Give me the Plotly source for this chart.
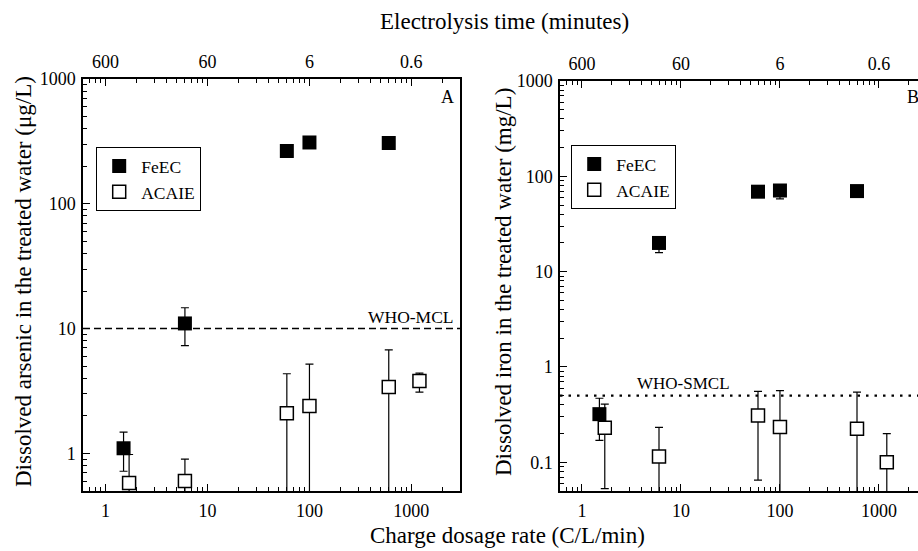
import math
import plotly.graph_objects as go

# ---------------- data ----------------
# Panel A: dissolved arsenic (ug/L) vs charge dosage rate (C/L/min)
as_feec_x = [1.5, 6, 60, 100, 600]
as_feec_y = [1.1, 11, 265, 310, 307]
as_feec_err = [0.38, 3.7, 0, 0, 0]

as_acaie_x = [1.7, 6, 60, 100, 600, 1200]
as_acaie_y = [0.58, 0.6, 2.1, 2.4, 3.4, 3.8]
as_acaie_err_plus = [0.4, 0.3, 2.25, 2.8, 3.35, 0.6]
as_acaie_err_minus = [0.4, 0.3, 2.25, 2.8, 3.35, 0.7]

# Panel B: dissolved iron (mg/L)
fe_feec_x = [1.5, 6, 60, 100, 600]
fe_feec_y = [0.32, 20, 69, 71, 70]
fe_feec_err_plus = [0.15, 3, 0, 5, 0]
fe_feec_err_minus = [0.15, 4.2, 0, 13, 0]

fe_acaie_x = [1.7, 6, 60, 100, 600, 1200]
fe_acaie_y = [0.23, 0.115, 0.31, 0.235, 0.225, 0.1]
fe_acaie_err = [0.177, 0.117, 0.245, 0.33, 0.32, 0.1]

WHO_MCL = 10      # ug/L arsenic
WHO_SMCL = 0.5    # mg/L iron

x_tickvals = [1, 10, 100, 1000]
x_ticktext = ["1", "10", "100", "1000"]
time_ticktext = ["600", "60", "6", "0.6"]   # electrolysis time = 600 / charge rate
ya_tickvals = [1, 10, 100, 1000]
ya_ticktext = ["1", "10", "100", "1000"]
yb_tickvals = [0.1, 1, 10, 100, 1000]
yb_ticktext = ["0.1", "1", "10", "100", "1000"]

# ---------------- style ----------------
FONT = "Liberation Serif, Times New Roman, serif"
W, H = 918, 551
TICKFONT = dict(family=FONT, size=18, color="black")


def minor_vals(lo_exp, hi_exp):
    vals = []
    for e in range(lo_exp, hi_exp + 1):
        for m in range(2, 10):
            vals.append(m * 10 ** e)
    return vals


xminor = minor_vals(-1, 3)
yminor_a = minor_vals(-1, 2)
yminor_b = minor_vals(-2, 2)

fig = go.Figure()

err_style = dict(color="black", thickness=1.2, width=4)


def feec_marker():
    return dict(symbol="square", size=14, color="black", line=dict(color="black", width=0))


def acaie_marker():
    return dict(symbol="square", size=13, color="white", line=dict(color="black", width=1.5))


# Panel A
fig.add_trace(go.Scatter(x=as_feec_x, y=as_feec_y, mode="markers", name="FeEC",
                         marker=feec_marker(), xaxis="x", yaxis="y", legend="legend",
                         error_y=dict(type="data", array=as_feec_err, visible=True, **err_style)))
fig.add_trace(go.Scatter(x=as_acaie_x, y=as_acaie_y, mode="markers", name="ACAIE",
                         marker=acaie_marker(), xaxis="x", yaxis="y", legend="legend",
                         error_y=dict(type="data", symmetric=False, array=as_acaie_err_plus,
                                      arrayminus=as_acaie_err_minus, visible=True, **err_style)))
# Panel B
fig.add_trace(go.Scatter(x=fe_feec_x, y=fe_feec_y, mode="markers", name="FeEC",
                         marker=feec_marker(), xaxis="x2", yaxis="y2", legend="legend2",
                         error_y=dict(type="data", symmetric=False, array=fe_feec_err_plus,
                                      arrayminus=fe_feec_err_minus, visible=True, **err_style)))
fig.add_trace(go.Scatter(x=fe_acaie_x, y=fe_acaie_y, mode="markers", name="ACAIE",
                         marker=acaie_marker(), xaxis="x2", yaxis="y2", legend="legend2",
                         error_y=dict(type="data", array=fe_acaie_err, visible=True, **err_style)))

# invisible traces so the top (time) axes get drawn
fig.add_trace(go.Scatter(x=as_feec_x, y=as_feec_y, mode="markers", xaxis="x3", yaxis="y",
                         marker=dict(opacity=0), showlegend=False, hoverinfo="skip"))
fig.add_trace(go.Scatter(x=fe_feec_x, y=fe_feec_y, mode="markers", xaxis="x4", yaxis="y2",
                         marker=dict(opacity=0), showlegend=False, hoverinfo="skip"))

# geometry (pixels)
ax_l, ax_r = 83, 460
bx_l = 560
y_top_a, y_top_b, y_bot = 79, 81, 491
xa_range = [math.log10(0.6), math.log10(3000)]
px_per_dec_b = 99.0
xb_range = [math.log10(0.6), math.log10(0.6) + (W - bx_l) / px_per_dec_b]

dom_xa = [ax_l / W, ax_r / W]
dom_xb = [bx_l / W, 1.0]
dom_ya = [1 - y_bot / H, 1 - y_top_a / H]
dom_yb = [1 - y_bot / H, 1 - y_top_b / H]


def xaxis_common(rng, dom, anchor):
    return dict(type="log", range=rng, domain=dom, anchor=anchor, showgrid=False, zeroline=False,
                showline=True, linecolor="black", linewidth=1.5, mirror=True,
                ticks="inside", ticklen=7, tickwidth=1.2, tickcolor="black",
                tickmode="array", tickvals=x_tickvals, ticktext=x_ticktext,
                tickfont=TICKFONT, ticklabelstandoff=3, automargin=False,
                minor=dict(tickmode="array", tickvals=xminor, ticks="inside", ticklen=4,
                           tickwidth=1, tickcolor="black", showgrid=False))


def xaxis_top(rng, dom, over, anchor):
    return dict(type="log", range=rng, domain=dom, overlaying=over, anchor=anchor, side="top",
                showgrid=False, zeroline=False, showline=False,
                ticks="inside", ticklen=7, tickwidth=1.2, tickcolor="black",
                tickmode="array", tickvals=x_tickvals, ticktext=time_ticktext,
                tickfont=TICKFONT, ticklabelstandoff=6, automargin=False,
                minor=dict(tickmode="array", tickvals=xminor, ticks="inside", ticklen=4,
                           tickwidth=1, tickcolor="black", showgrid=False))


def yaxis_common(rng, dom, anchor, tv, tt, mv, mirror):
    return dict(type="log", range=rng, domain=dom, anchor=anchor, showgrid=False, zeroline=False,
                showline=True, linecolor="black", linewidth=1.5, mirror=mirror,
                ticks="inside", ticklen=7, tickwidth=1.2, tickcolor="black",
                tickmode="array", tickvals=tv, ticktext=tt,
                tickfont=TICKFONT, ticklabelstandoff=2, automargin=False,
                minor=dict(tickmode="array", tickvals=mv, ticks="inside", ticklen=4,
                           tickwidth=1, tickcolor="black", showgrid=False))


legend_common = dict(bgcolor="white", bordercolor="black", borderwidth=1.2,
                     font=dict(family=FONT, size=17.5, color="black"),
                     xanchor="left", yanchor="top", tracegroupgap=0, itemwidth=34)

fig.update_layout(
    width=W, height=H,
    margin=dict(l=0, r=0, t=0, b=0, autoexpand=False),
    paper_bgcolor="white", plot_bgcolor="white",
    font=dict(family=FONT, color="black"),
    xaxis=xaxis_common(xa_range, dom_xa, "y"),
    yaxis=yaxis_common([math.log10(0.5), 3], dom_ya, "x", ya_tickvals, ya_ticktext, yminor_a, True),
    xaxis2=xaxis_common(xb_range, dom_xb, "y2"),
    yaxis2=yaxis_common([math.log10(0.05), 3], dom_yb, "x2", yb_tickvals, yb_ticktext, yminor_b, False),
    xaxis3=xaxis_top(xa_range, dom_xa, "x", "y"),
    xaxis4=xaxis_top(xb_range, dom_xb, "x2", "y2"),
    legend=dict(x=96 / W, y=1 - 147 / H, **legend_common),
    legend2=dict(x=571 / W, y=1 - 145 / H, **legend_common),
    showlegend=True,
)

# guideline shapes (log axes take data values here)
fig.add_shape(type="line", xref="x domain", yref="y", x0=0, x1=1,
              y0=WHO_MCL, y1=WHO_MCL,
              line=dict(color="black", width=1.5, dash="7px,4px"))
fig.add_shape(type="line", xref="x2 domain", yref="y2", x0=0, x1=1,
              y0=WHO_SMCL, y1=WHO_SMCL,
              line=dict(color="black", width=2.2, dash="2.5px,6px"))

ann_font = dict(family=FONT, size=18, color="black")
title_font = dict(family=FONT, size=23, color="black")
fig.add_annotation(text="WHO-MCL", xref="x domain", yref="paper", x=0.99, y=1 - 317 / H,
                   xanchor="right", yanchor="middle", showarrow=False, font=dict(family=FONT, size=17.5))
fig.add_annotation(text="WHO-SMCL", xref="paper", yref="paper", x=635 / W, y=1 - 383 / H,
                   xanchor="left", yanchor="middle", showarrow=False, font=dict(family=FONT, size=17))
fig.add_annotation(text="A", xref="paper", yref="paper", x=447 / W, y=1 - 97 / H,
                   xanchor="center", yanchor="middle", showarrow=False, font=ann_font)
fig.add_annotation(text="B", xref="paper", yref="paper", x=913 / W, y=1 - 97 / H,
                   xanchor="center", yanchor="middle", showarrow=False, font=ann_font)

fig.add_annotation(text="Electrolysis time (minutes)", xref="paper", yref="paper",
                   x=504 / W, y=1 - 22 / H, xanchor="center", yanchor="middle",
                   showarrow=False, font=title_font)
fig.add_annotation(text="Charge dosage rate (C/L/min)", xref="paper", yref="paper",
                   x=507 / W, y=1 - 535 / H, xanchor="center", yanchor="middle",
                   showarrow=False, font=title_font)
fig.add_annotation(text="Dissolved arsenic in the treated water (μg/L)", xref="paper", yref="paper",
                   x=23 / W, y=1 - 282 / H, xanchor="center", yanchor="middle", textangle=-90,
                   showarrow=False, font=title_font)
fig.add_annotation(text="Dissolved iron in the treated water (mg/L)", xref="paper", yref="paper",
                   x=503 / W, y=1 - 282 / H, xanchor="center", yanchor="middle", textangle=-90,
                   showarrow=False, font=title_font)

# remove the default 8px page margin so the figure sits at the window's top-left corner
fig.write_html("out.html", config={"displayModeBar": False},
               post_script="document.body.style.margin='0';")
